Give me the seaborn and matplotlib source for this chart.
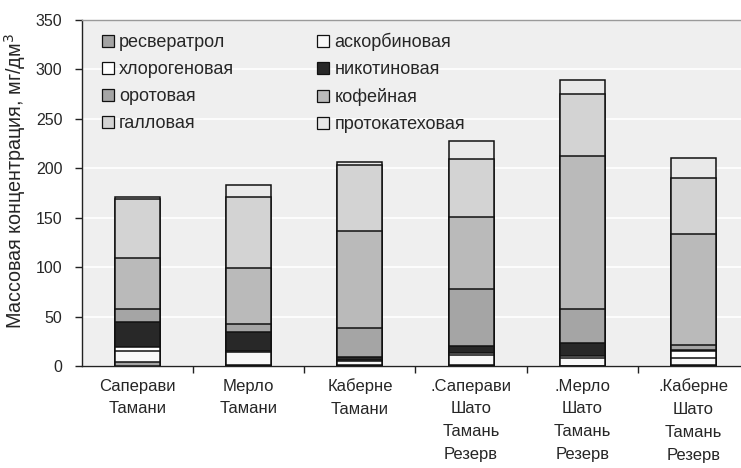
import numpy as np
import pandas as pd
import matplotlib
matplotlib.use("Agg")
import matplotlib.pyplot as plt
from matplotlib.patches import Patch
import seaborn as sns

# Wine samples
wines = ["Саперави\nТамани", "Мерло\nТамани", "Каберне\nТамани",
         ".Саперави\nШато\nТамань\nРезерв", ".Мерло\nШато\nТамань\nРезерв",
         ".Каберне\nШато\nТамань\nРезерв"]

# Mass concentration of each acid, mg/dm3 (stacking order, bottom to top)
resveratrol     = [4.5, 1.5, 1.0, 1.5, 0.5, 1.0]
ascorbic        = [11.0, 12.5, 4.5, 9.5, 7.5, 7.5]
chlorogenic     = [3.5, 1.5, 0.5, 2.5, 2.5, 7.0]
nicotinic       = [25.5, 18.5, 3.0, 6.5, 12.5, 1.0]
orotic          = [13.5, 8.0, 29.0, 58.0, 34.5, 4.7]
caffeic         = [51.5, 57.0, 99.0, 73.0, 154.5, 112.6]
gallic          = [59.0, 72.0, 66.0, 58.0, 63.0, 56.2]
protocatechuic  = [2.5, 12.5, 3.0, 19.0, 14.0, 20.7]

series_names = ["ресвератрол", "аскорбиновая", "хлорогеновая", "никотиновая",
                "оротовая", "кофейная", "галловая", "протокатеховая"]
series_vals = [resveratrol, ascorbic, chlorogenic, nicotinic,
               orotic, caffeic, gallic, protocatechuic]
series_colors = ["#a3a3a3", "#f8f8f8", "#ffffff", "#282828",
                 "#a5a5a5", "#bababa", "#d3d3d3", "#e9e9e9"]

sns.set_theme(style="white")
plt.rcParams["font.family"] = ["Liberation Sans", "DejaVu Sans"]

fig = plt.figure(figsize=(7.41, 4.68), dpi=100)
ax = fig.add_axes([82 / 741, 1 - 366 / 468, 667 / 741, 346 / 468])
ax.set_facecolor("#efefef")

# Cumulative tops, drawn tallest first so each segment boundary gets an edge
rows = []
cum = np.zeros(len(wines))
for name, vals in zip(series_names, series_vals):
    cum = cum + np.array(vals)
    for w, c in zip(wines, cum):
        rows.append({"wine": w, "compound": name, "top": c})
df = pd.DataFrame(rows)

for name, color in reversed(list(zip(series_names, series_colors))):
    sub = df[df["compound"] == name]
    sns.barplot(data=sub, x="wine", y="top", order=wines, color=color,
                width=0.405, edgecolor="#111111", linewidth=1.1,
                saturation=1, errorbar=None, ax=ax, zorder=3)

ax.set_ylim(0, 350)
ax.set_xlim(-0.5, 5.5)
ax.set_yticks(np.arange(0, 351, 50))
ax.yaxis.grid(True, color="white", linewidth=1.2, zorder=0)
ax.set_axisbelow(True)

ax.spines["right"].set_visible(False)
ax.spines["top"].set_color("#9a9a9a")
ax.spines["top"].set_linewidth(1.0)
ax.spines["left"].set_color("#222222")
ax.spines["bottom"].set_color("#222222")
ax.spines["left"].set_linewidth(1.0)
ax.spines["bottom"].set_linewidth(1.0)

ax.tick_params(axis="y", which="major", left=True, length=5, width=1,
               color="#222222", labelsize=11.5, pad=9)
ax.set_xticks(np.arange(len(wines)))
ax.set_xticklabels(wines, fontsize=12, linespacing=1.65)
ax.tick_params(axis="x", which="major", length=0, pad=9)
ax.set_xticks(np.arange(0.5, len(wines), 1), minor=True)
ax.tick_params(axis="x", which="minor", bottom=True, length=5, width=1,
               color="#222222")

ax.set_xlabel("")
ax.set_ylabel("Массовая концентрация, мг/дм$^3$", fontsize=14.2)
ax.yaxis.set_label_coords(-0.081, 0.535)

handles = [Patch(facecolor=c, edgecolor="#111111", linewidth=0.9, label=n)
           for n, c in zip(series_names, series_colors)]
# two columns filled row by row
order = [0, 2, 4, 6, 1, 3, 5, 7]
leg = ax.legend([handles[i] for i in order], [series_names[i] for i in order],
                ncol=2, loc="upper left", bbox_to_anchor=(0.030, 0.962),
                frameon=False, fontsize=13, handlelength=0.65,
                handleheight=0.65, handletextpad=0.3, labelspacing=0.55,
                columnspacing=4.6, borderpad=0, borderaxespad=0)

fig.savefig("out.png", dpi=100, facecolor="white")
